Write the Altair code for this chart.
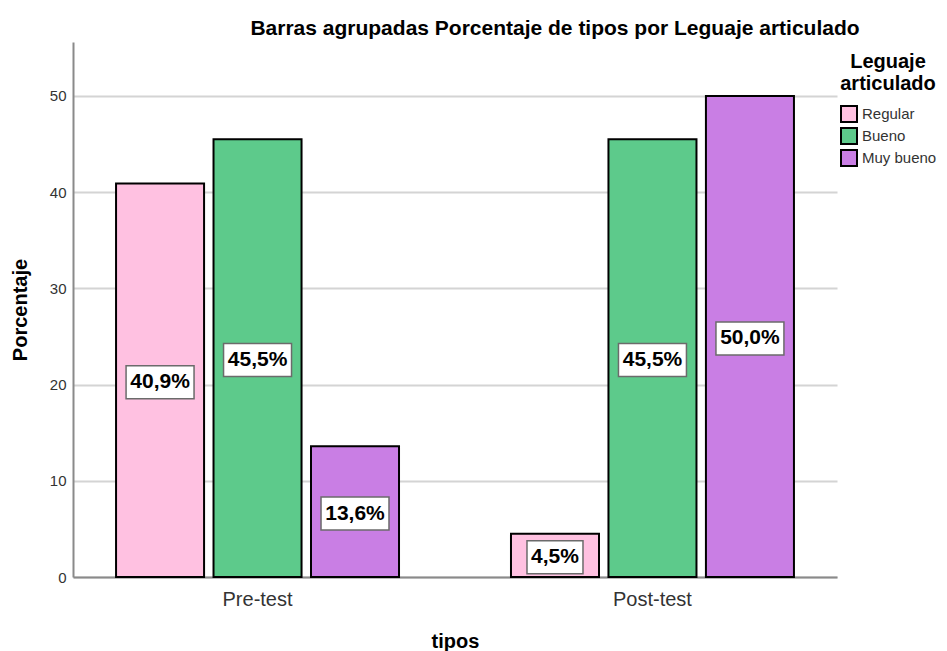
import altair as alt
import pandas as pd

tipos = ["Pre-test", "Post-test"]
niveles = ["Regular", "Bueno", "Muy bueno"]
pre_values = [40.9, 45.5, 13.6]
post_values = [4.5, 45.5, 50.0]
colores = ["#ffc1e1", "#5dca8b", "#c97ee4"]
y_ticks = [0, 10, 20, 30, 40, 50]

rows = []
for t, vals in zip(tipos, [pre_values, post_values]):
    for n, v in zip(niveles, vals):
        lab = f"{v:.1f}".replace(".", ",") + "%"
        rows.append({"tipo": t, "nivel": n, "pct": v, "mid": v / 2,
                     "label": lab, "nchar": str(len(lab))})
df = pd.DataFrame(rows)

FONT = "Liberation Sans"
path4 = "M-0.8,-0.471L0.8,-0.471L0.8,0.471L-0.8,0.471Z"
path5 = "M-0.971,-0.471L0.971,-0.471L0.971,0.471L-0.971,0.471Z"

x_enc = alt.X("tipo:N", sort=tipos,
              scale=alt.Scale(paddingInner=0.2835, paddingOuter=0.109),
              axis=alt.Axis(title="tipos", labelAngle=0, labelFontSize=20,
                            labelColor="#333333", labelPadding=12, tickSize=0,
                            domainColor="#8a8a8a", domainWidth=2, grid=False,
                            titleFontSize=20, titleFontWeight="bold",
                            titlePadding=22, titleColor="black"))
xo_enc = alt.XOffset("nivel:N", sort=niveles,
                     scale=alt.Scale(paddingInner=0.097, paddingOuter=0))
y_axis = alt.Axis(title="Porcentaje", values=y_ticks, labelFontSize=15,
                  labelColor="#333333", labelPadding=7, tickSize=0,
                  domainColor="#8a8a8a", domainWidth=2, grid=True,
                  gridColor="#d4d4d4", gridWidth=2, titleFontSize=20,
                  titleFontWeight="bold", titlePadding=19, titleColor="black")
y_scale = alt.Scale(domain=[0, 55.6], nice=False)

bars = alt.Chart(df).mark_bar(stroke="black", strokeWidth=2, opacity=1).encode(
    x=x_enc,
    xOffset=xo_enc,
    y=alt.Y("pct:Q", scale=y_scale, axis=y_axis),
    color=alt.Color("nivel:N", sort=niveles,
                    scale=alt.Scale(domain=niveles, range=colores),
                    legend=alt.Legend(title=["Leguaje", "articulado"], orient="none",
                                      legendX=767, legendY=10, padding=0,
                                      titleFontSize=20, titleFontWeight="bold",
                                      titleColor="black", titleAlign="center",
                                      titleAnchor="middle", titleLineHeight=22,
                                      titlePadding=11, labelFontSize=15,
                                      labelColor="#333333", symbolType="square",
                                      symbolSize=256, symbolStrokeColor="black",
                                      symbolStrokeWidth=2, rowPadding=-2,
                                      labelOffset=4)),
)

boxes = alt.Chart(df).mark_point(filled=True, fill="white", stroke="#6b6b6b",
                                 strokeWidth=1.5, size=4900, opacity=1,
                                 yOffset=2).encode(
    x=x_enc,
    xOffset=xo_enc,
    y=alt.Y("mid:Q", scale=y_scale, axis=y_axis),
    shape=alt.Shape("nchar:N", scale=alt.Scale(domain=["4", "5"], range=[path4, path5]),
                    legend=None),
)

texts = alt.Chart(df).mark_text(font=FONT, fontWeight="bold", fontSize=21,
                                color="black", baseline="middle", yOffset=2).encode(
    x=x_enc,
    xOffset=xo_enc,
    y=alt.Y("mid:Q", scale=y_scale, axis=y_axis),
    text="label:N",
)

chart = alt.layer(bars, boxes, texts).properties(
    width=764, height=535,
    padding={"left": 65, "top": 34, "right": 102, "bottom": 74},
    autosize=alt.AutoSizeParams(type="none"),
    title=alt.TitleParams("Barras agrupadas Porcentaje de tipos por Leguaje articulado",
                          fontSize=21, font=FONT, fontWeight="bold", color="black",
                          anchor="middle", frame="group", dx=100, dy=23, offset=9,
                          baseline="alphabetic"),
).configure_axis(labelFont=FONT, titleFont=FONT).configure_legend(
    labelFont=FONT, titleFont=FONT
).configure_view(strokeWidth=0)

chart.save("out.html", embed_options={"renderer": "svg", "actions": False})
